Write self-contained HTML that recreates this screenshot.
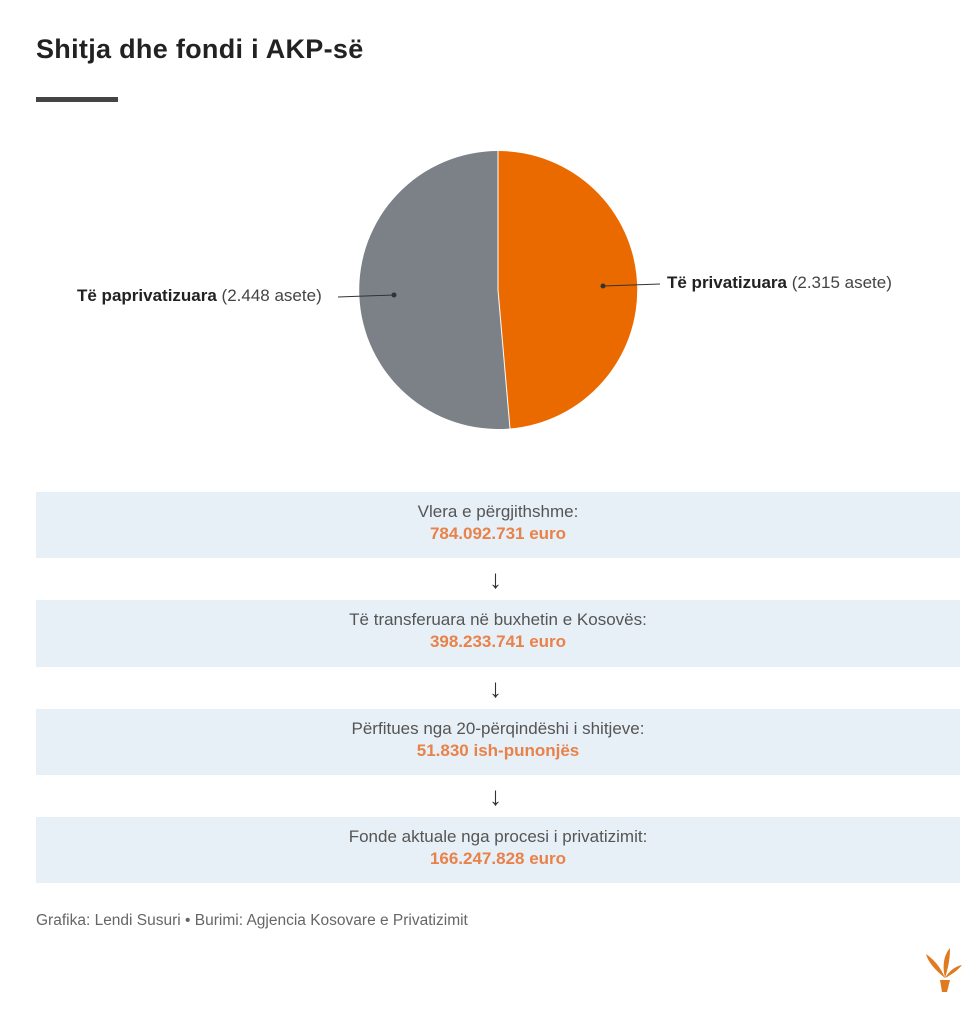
<!DOCTYPE html>
<html><head><meta charset="utf-8"><style>
body{margin:0;width:980px;height:1013px;background:#fff;font-family:"Liberation Sans",sans-serif;position:relative;overflow:hidden}
.t{position:absolute;left:36px;top:34px;font-size:27px;font-weight:bold;color:#222;letter-spacing:0.3px}
.bar{position:absolute;left:36px;top:97px;width:82px;height:5px;background:#444}
.box{position:absolute;left:36px;width:924px;background:#e7f0f6;text-align:center;color:#555;font-size:17px;line-height:22px;box-sizing:border-box;padding-top:9px}
.box b{color:#e9824a;display:block}
.arr{position:absolute;left:489px;font-size:26px;color:#333}
.lbl{position:absolute;font-size:17px;color:#444}
.lbl b{color:#222}
.src{position:absolute;left:36px;top:912px;font-size:15.5px;color:#666}
</style></head><body>
<div class="t">Shitja dhe fondi i AKP-së</div>
<div class="bar"></div>
<svg style="position:absolute;left:0;top:0" width="980" height="460">
<path d="M498,290 L498,151 A139,139 0 0 1 510,428.5 Z" fill="#ea6a00"/>
<path d="M498,290 L510,428.5 A139,139 0 1 1 498,151 Z" fill="#7b8187"/>
<line x1="498" y1="151" x2="498" y2="290" stroke="#fff" stroke-width="1"/>
<line x1="498" y1="290" x2="510" y2="428.5" stroke="#fff" stroke-width="1"/>
<line x1="338" y1="297" x2="394" y2="295" stroke="#333" stroke-width="1"/>
<circle cx="394" cy="295" r="2.5" fill="#333"/>
<line x1="603" y1="286" x2="660" y2="284" stroke="#333" stroke-width="1"/>
<circle cx="603" cy="286" r="2.5" fill="#333"/>
</svg>
<div class="lbl" style="left:77px;top:286px"><b>Të paprivatizuara</b> (2.448 asete)</div>
<div class="lbl" style="left:667px;top:273px"><b>Të privatizuara</b> (2.315 asete)</div>
<div class="box" style="top:492px;height:66px">Vlera e përgjithshme:<b>784.092.731 euro</b></div>
<div class="arr" style="top:564px">↓</div>
<div class="box" style="top:600px;height:67px">Të transferuara në buxhetin e Kosovës:<b>398.233.741 euro</b></div>
<div class="arr" style="top:673px">↓</div>
<div class="box" style="top:709px;height:66px">Përfitues nga 20-përqindëshi i shitjeve:<b>51.830 ish-punonjës</b></div>
<div class="arr" style="top:781px">↓</div>
<div class="box" style="top:817px;height:66px">Fonde aktuale nga procesi i privatizimit:<b>166.247.828 euro</b></div>
<div class="src">Grafika: Lendi Susuri • Burimi: Agjencia Kosovare e Privatizimit</div>
<svg style="position:absolute;left:920px;top:940px" width="45" height="60">
<path d="M20,40 L30,40 L27,52 L22,52 Z" fill="#e07a20"/>
<path d="M25,38 C15,30 8,22 6,14 C14,20 20,26 25,38 Z" fill="#e07a20"/>
<path d="M25,38 C22,25 24,15 30,8 C30,20 28,28 25,38 Z" fill="#e07a20"/>
<path d="M25,38 C30,30 36,26 42,25 C37,31 31,35 25,38 Z" fill="#e07a20"/>
</svg>
</body></html>
